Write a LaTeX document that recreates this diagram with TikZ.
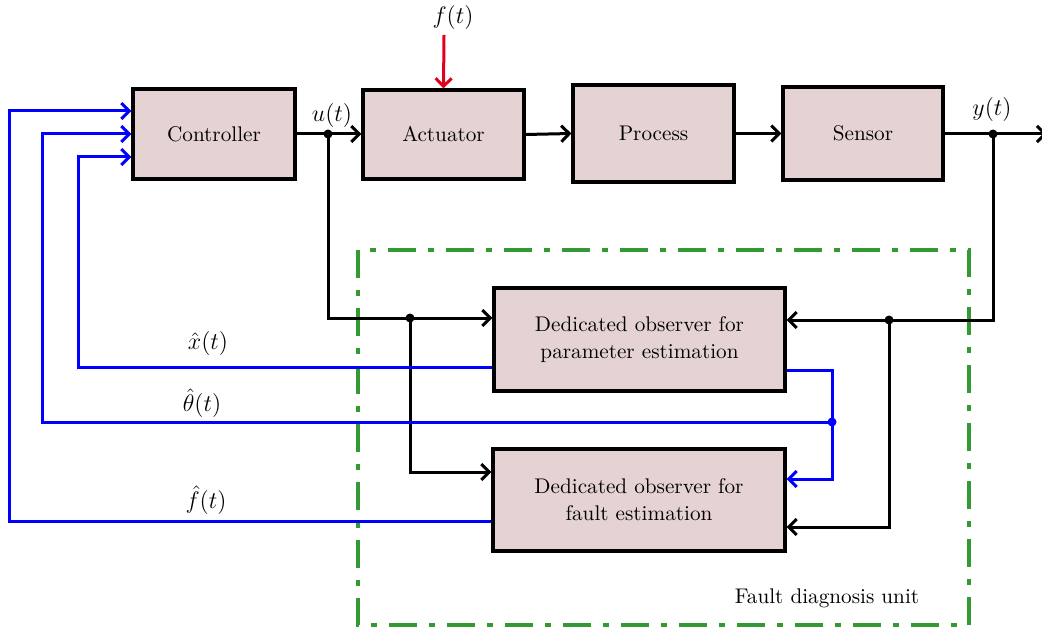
\documentclass[tikz,border=0pt]{standalone}
\usetikzlibrary{arrows.meta,calc}
\definecolor{boxfill}{HTML}{E5D3D3}
\definecolor{fdgreen}{HTML}{339933}
\definecolor{sigblue}{HTML}{0000FF}
\definecolor{sigred}{HTML}{E0001B}
\tikzset{
  blk/.style={draw=black, line width=1.6pt, fill=boxfill, inner sep=0pt, align=center, font=\fontsize{10.6}{13.5}\selectfont},
  sig/.style={line width=1.5pt, -{Straight Barb[length=4pt,width=8pt]}},
  wire/.style={line width=1.5pt},
  bluewire/.style={line width=1.5pt, draw=sigblue},
  bluesig/.style={bluewire, -{Straight Barb[length=4pt,width=8pt]}},
  dotnode/.style={circle, fill, inner sep=0pt, minimum size=4.5pt},
  lbl/.style={font=\fontsize{13}{15}\selectfont},
  fdu/.style={draw=fdgreen, line width=1.6pt, dash pattern=on 14pt off 6pt on 3pt off 6pt}
}
\begin{document}
\begin{tikzpicture}[x=0.5pt,y=-0.5pt]
\useasboundingbox (0,0) rectangle (1042,630);
% blocks
\node[blk, minimum width=81pt, minimum height=45pt] (ctrl) at (214,134) {Controller};
\node[blk, minimum width=80.5pt, minimum height=44.5pt] (act) at (443.5,134.5) {Actuator};
\node[blk, minimum width=80.5pt, minimum height=48.5pt] (proc) at (653.5,133.5) {Process};
\node[blk, minimum width=80pt, minimum height=46.5pt] (sens) at (863,133.5) {Sensor};
\node[blk, minimum width=145.5pt, minimum height=51.5pt] (obs1) at (639.5,339.5) {Dedicated observer for\\parameter estimation};
\node[blk, minimum width=146pt, minimum height=51pt] (obs2) at (639,500) {Dedicated observer for\\fault estimation};
% fault diagnosis unit
\draw[fdu] (358,250) rectangle (969,625);
\node[font=\fontsize{10.6}{13}\selectfont] (fdulbl) at (827,598) {Fault diagnosis unit};
% labels
\node[lbl] (ft) at (453,18) {$f(t)$};
\node[lbl] (ut) at (332,116) {$u(t)$};
\node[lbl] (yt) at (992,110) {$y(t)$};
\node[lbl] (xh) at (208,343) {$\hat{x}(t)$};
\node[lbl] (th) at (202,403) {$\hat{\theta}(t)$};
\node[lbl] (fh) at (206,500) {$\hat{f}(t)$};
% coordinates
\coordinate (ud) at (328,134);
\coordinate (j1) at (328,318);
\coordinate (d1) at (410,318);
\coordinate (c2) at (410,472);
\coordinate (yd) at (993,134);
\coordinate (out) at (1047,134);
\coordinate (r1) at (993,320);
\coordinate (d2) at (889,320);
\coordinate (r2) at (889,527);
\coordinate (b1) at (78,367);
\coordinate (k1) at (78,157);
\coordinate (b2) at (832,370);
\coordinate (bd) at (832,422);
\coordinate (b3) at (832,479);
\coordinate (b4) at (42,422);
\coordinate (k2) at (42,134);
\coordinate (b5) at (9,521);
\coordinate (k3) at (9,111);
\coordinate (fs) at (444,35);
% main path
\draw[sig] (ctrl.east |- ud) -- (act.west |- ud);
\draw[sig] (act.east) -- (proc.west);
\draw[sig] (proc.east) -- (sens.west);
\draw[sig] (sens.east |- yd) -- (out);
\draw[sig, draw=sigred] (fs) -- (act.north);
% black feeds to observers
\draw[sig] (ud) -- (j1) -- (obs1.west |- j1);
\draw[sig] (d1) -- (c2) -- (obs2.west |- c2);
\draw[sig] (yd) -- (r1) -- (obs1.east |- r1);
\draw[sig] (d2) -- (r2) -- (obs2.east |- r2);
\node[dotnode] at (ud) {};
\node[dotnode] at (d1) {};
\node[dotnode] at (yd) {};
\node[dotnode] at (d2) {};
% blue feedback
\draw[bluesig] (obs1.west |- b1) -- (b1) -- (k1) -- (ctrl.west |- k1);
\draw[bluesig] (obs1.east |- b2) -- (b2) -- (b3) -- (obs2.east |- b3);
\draw[bluesig] (bd) -- (b4) -- (k2) -- (ctrl.west |- k2);
\draw[bluesig] (obs2.west |- b5) -- (b5) -- (k3) -- (ctrl.west |- k3);
\node[dotnode, fill=sigblue] at (bd) {};
\end{tikzpicture}
\end{document}
